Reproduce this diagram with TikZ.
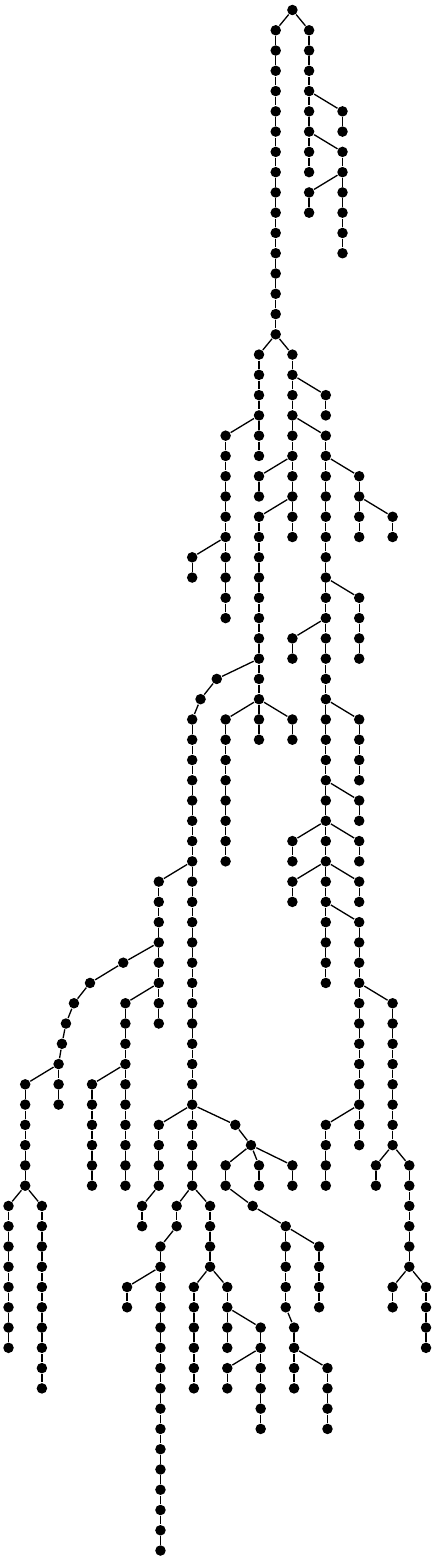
\documentclass[tikz,border=0pt]{standalone}
\usepackage{tikz}

\tikzset{dot/.style={circle, fill=black, inner sep=0pt, minimum size=0.21cm}}

\begin{document}
\begin{tikzpicture}[x=0.334cm, y=-0.4054cm, line width=0.75pt]
	\useasboundingbox (-0.509,-0.493) rectangle (25.599,76.516);
% draw root
	\node[dot] (r) at (17,0) {};
% draw branches: name/column/first row/last row/parent
	\foreach \nm/\cx/\ra/\rb/\pa in {
		a/16/1/16/r, b/18/1/8/r, c/20/5/6/b4, d/20/7/12/b6, e/18/9/10/d8,
		f/15/17/22/a16, g/17/17/26/a16, h/13/21/30/f20, i/11/27/28/h26,
		j/19/19/20/g18, k/19/21/48/g20, l/15/23/24/g22, m/15/25/36/g24,
		n/21/23/26/k22, o/23/25/26/n24, p/21/29/32/k28, q/17/31/32/k30,
		s/21/35/38/k34, t/21/39/40/k38, u/17/41/42/k40, v/21/41/42/k40,
		w/17/43/44/k42, x/21/43/44/k42, y/21/45/56/k44, z/23/49/56/y48,
		ya/19/55/58/y54, za/22/57/58/z56, zb/24/57/62/z56,
		zc/23/63/64/zb62, zd/25/63/66/zb62,
		cv/12.47/33/33/m32, cv/11.5/34/34/cv33,
		ma/11/35/58/cv34, mb/13/35/42/m34, mc/17/35/36/m34, mm/9/43/50/ma42,
		cv/6.87/47/47/mm46, cv/4.88/48/48/cv47, cv/3.92/49/49/cv48,
		cv/3.44/50/50/cv49, cv/3.2/51/51/cv50,
		qa/3/52/54/cv51, qb/1/53/58/qa52, qc/0/59/66/qb58, qd/2/59/68/qb58,
		me/7/49/58/mm48, mf/5/53/58/me52, mg/9/55/58/ma54, mh/8/59/60/mg58,
		cv/13.58/55/55/ma54, cv/14.52/56/56/cv55,
		wa/13/57/58/cv56, wb/15/57/58/cv56, wc/17/57/58/cv56,
		cv/14.62/59/59/wa58, wd/16.6/60/64/cv59, we/18.6/61/64/wd60,
		wf/17.1/65/68/wd64, wg/19.1/67/70/wf66,
		ra/10.07/59/60/ma58, rb/9.1/61/76/ra60, rc/7.1/63/64/rb62,
		rd/12.07/59/62/ma58, re/11.1/63/68/rd62, rf/13.1/63/66/rd62,
		rg/15.1/65/70/rf64, rh/13.1/67/68/rg66}
	{
		\foreach \rw [remember=\rw as \pr (initially \ra)] in {\ra,...,\rb}
		{
			\node[dot] (\nm\rw) at (\cx,\rw) {};
			\ifnum\rw>\ra\relax \draw (\nm\pr) -- (\nm\rw); \fi
		}
		\draw (\pa) -- (\nm\ra);
	}
\end{tikzpicture}
\end{document}
